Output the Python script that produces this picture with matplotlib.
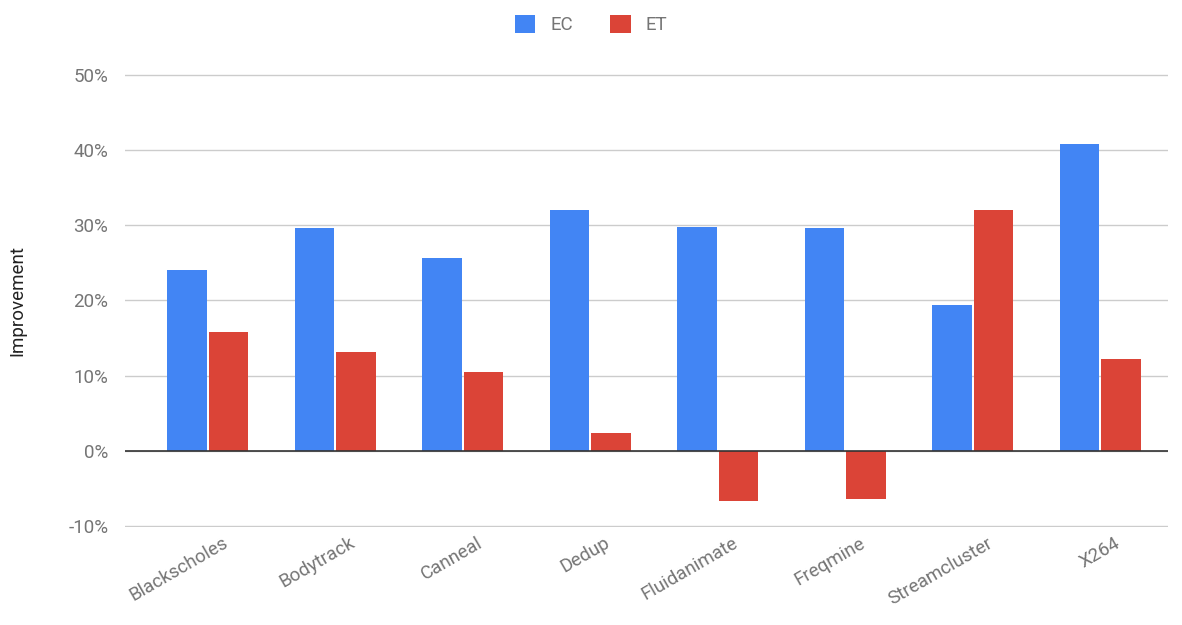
import matplotlib.pyplot as plt
import matplotlib.transforms as mtransforms
import numpy as np
from matplotlib.ticker import FuncFormatter

plt.rcParams['font.family'] = ['Roboto', 'DejaVu Sans']

benchmarks = ['Blackscholes', 'Bodytrack', 'Canneal', 'Dedup', 'Fluidanimate',
              'Freqmine', 'Streamcluster', 'X264']
ec = [24.1, 29.6, 25.6, 32.0, 29.8, 29.6, 19.4, 40.8]
et = [15.8, 13.1, 10.5, 2.4, -6.6, -6.4, 32.0, 12.2]
yticks = [-10, 0, 10, 20, 30, 40, 50]

fig = plt.figure(figsize=(11.82, 6.25), dpi=100)
ax = fig.add_axes([0.1058, 0.157, 0.882, 0.7246])

x = np.arange(len(benchmarks))
w = 0.31
ax.bar(x - w / 2 - 0.008, ec, w, color='#4285f4', label='EC', zorder=3)
ax.bar(x + w / 2 + 0.008, et, w, color='#db4437', label='ET', zorder=3)

ax.set_ylim(-10.1, 50.1)
ax.set_xlim(-0.65, 7.53)
ax.set_yticks(yticks)
ax.yaxis.set_major_formatter(FuncFormatter(lambda v, p: f'{v:.0f}%'))
ax.grid(axis='y', color='#cccccc', linewidth=1, zorder=0)
ax.axhline(0, color='#333333', linewidth=1.2, zorder=4)

for s in ax.spines.values():
    s.set_visible(False)
ax.tick_params(axis='both', length=0, labelsize=13.5, labelcolor='#757575')
ax.tick_params(axis='y', pad=12)

ax.set_xticks(x)
ax.set_xticklabels(benchmarks, rotation=30, ha='right', rotation_mode='anchor')
ax.tick_params(axis='x', pad=5)
shift = mtransforms.ScaledTranslation(0.14, 0, fig.dpi_scale_trans)
for lbl in ax.get_xticklabels():
    lbl.set_transform(lbl.get_transform() + shift)

ax.set_ylabel('Improvement', fontsize=13.5, color='#222222', labelpad=30)

fig.legend(loc='upper center', bbox_to_anchor=(0.5, 1.003), ncol=2, frameon=False,
           fontsize=13.5, handlelength=1.1, handleheight=1.1, columnspacing=2.0,
           handletextpad=0.8, labelcolor='#757575')

fig.savefig('out.png', dpi=100)
